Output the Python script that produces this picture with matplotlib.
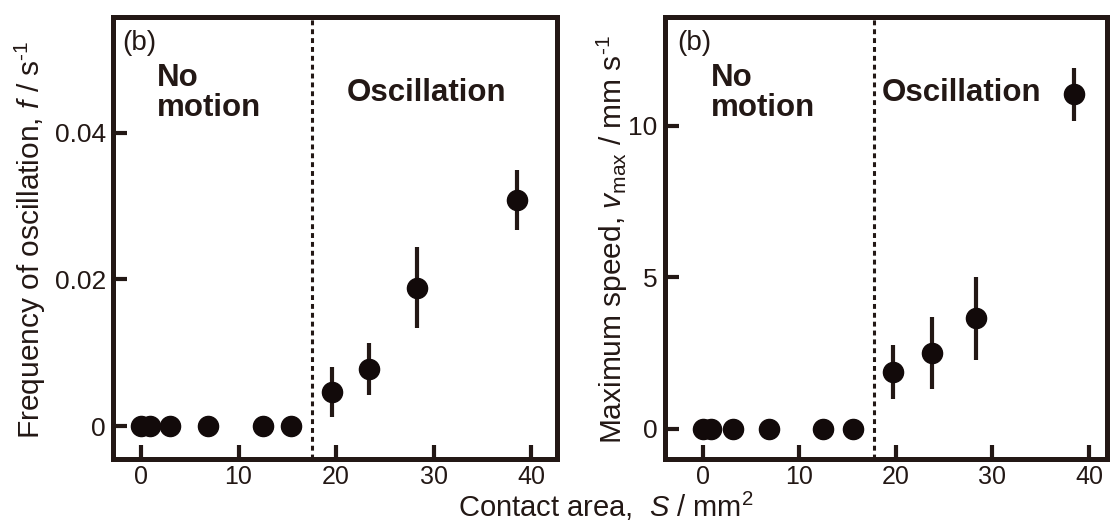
import matplotlib
matplotlib.use('agg')
import matplotlib.pyplot as plt

plt.rcParams['font.family'] = ['Liberation Sans', 'DejaVu Sans']
plt.rcParams['mathtext.fontset'] = 'custom'
plt.rcParams['mathtext.rm'] = 'Liberation Sans'
plt.rcParams['mathtext.it'] = 'Liberation Sans:italic'

INK = '#231815'

# left panel: oscillation frequency
area_f = [0.0, 0.9, 3.0, 6.9, 12.5, 15.4, 19.6, 23.4, 28.3, 38.5]
freq = [0, 0, 0, 0, 0, 0, 0.0047, 0.0078, 0.0189, 0.0308]
freq_err = [0, 0, 0, 0, 0, 0, 0.0034, 0.0035, 0.0055, 0.0041]

# right panel: maximum speed
area_v = [0.0, 0.8, 3.1, 6.9, 12.5, 15.6, 19.7, 23.7, 28.3, 38.5]
vmax = [0, 0, 0, 0, 0, 0, 1.87, 2.5, 3.64, 11.03]
vmax_err = [0, 0, 0, 0, 0, 0, 0.9, 1.2, 1.38, 0.87]

f_ticks = [0, 0.02, 0.04]
f_ticklabels = ['0', '0.02', '0.04']
v_ticks = [0, 5, 10]
x_ticks = [0, 10, 20, 30, 40]

fig = plt.figure(figsize=(11.1, 5.31), dpi=100)
ax1 = fig.add_axes([0.1018, 0.1356, 0.4, 0.8333])
ax2 = fig.add_axes([0.5987, 0.1356, 0.3986, 0.8333])


def style(ax):
    for s in ax.spines.values():
        s.set_linewidth(3.6)
        s.set_color(INK)
    ax.tick_params(direction='in', length=10, width=3, color=INK,
                   labelcolor=INK, top=False, right=False)
    ax.tick_params(axis='x', pad=4, labelsize=18)
    ax.tick_params(axis='y', pad=5, labelsize=19)
    ax.set_xticks(x_ticks)


def labels(ax, x_no, x_osc):
    ax.text(x_no - 0.077, 0.925, '(b)', transform=ax.transAxes, fontsize=20,
            color=INK, va='baseline')
    ax.text(x_no, 0.843, 'No', transform=ax.transAxes, fontsize=22.5,
            fontweight='bold', color=INK, va='baseline')
    ax.text(x_no, 0.775, 'motion', transform=ax.transAxes, fontsize=22.5,
            fontweight='bold', color=INK, va='baseline')
    ax.text(x_osc, 0.809, 'Oscillation', transform=ax.transAxes, fontsize=22.5,
            fontweight='bold', color=INK, va='baseline')


ax1.errorbar(area_f, freq, yerr=freq_err, fmt='o', ms=14.5, color='#120a0a',
             ecolor=INK, elinewidth=3, capsize=0, zorder=3)
ax1.axvline(17.5, color=INK, lw=2.2, ls=(0, (1.6, 1.3)))
ax1.set_xlim(-2.87, 42.65)
ax1.set_ylim(-0.00445, 0.0558)
ax1.set_yticks(f_ticks)
ax1.set_yticklabels(f_ticklabels)
style(ax1)
labels(ax1, 0.098, 0.526)

ax2.errorbar(area_v, vmax, yerr=vmax_err, fmt='o', ms=14.5, color='#120a0a',
             ecolor=INK, elinewidth=3, capsize=0, zorder=3)
ax2.axvline(17.7, color=INK, lw=2.2, ls=(0, (1.6, 1.3)))
ax2.set_xlim(-3.96, 41.87)
ax2.set_ylim(-1.0, 13.6)
ax2.set_yticks(v_ticks)
style(ax2)
labels(ax2, 0.105, 0.491)

fig.text(30.5 / 1110, 1 - 240 / 531, r'Frequency of oscillation, $f$ / s$^{\text{-1}}$',
         rotation=90, ha='center', va='center', fontsize=21.5, color=INK)
fig.text(612 / 1110, 1 - 240 / 531, r'Maximum speed, $v_{\mathrm{max}}$ / mm s$^{\text{-1}}$',
         rotation=90, ha='center', va='center', fontsize=21.5, color=INK)
fig.text(606 / 1110, 0.0255, r'Contact area,  $S$ / mm$^2$', ha='center',
         va='baseline', fontsize=21, color=INK)

fig.savefig('out.png', dpi=100, facecolor='white')
